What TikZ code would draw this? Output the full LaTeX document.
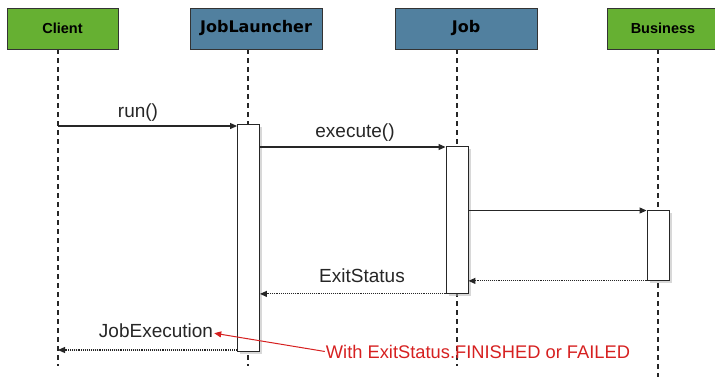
\documentclass[tikz,border=0pt]{standalone}
\usepackage{fontspec}
\setmainfont{Liberation Sans}
\newfontfamily\widefont{DejaVu Sans}
\usetikzlibrary{arrows.meta,shadows}

\definecolor{actorgreen}{RGB}{102,176,50}
\definecolor{actorblue}{RGB}{81,128,159}
\definecolor{notered}{RGB}{214,32,32}

\tikzset{
  actor/.style={draw=black!80, line width=0.8pt, minimum height=41pt, inner sep=0pt},
  lifeline/.style={draw=black!85, dash pattern=on 5pt off 4pt, line width=1.2pt},
  actbox/.style={draw=black!85, fill=white, line width=0.9pt, minimum width=22pt, inner sep=0pt, anchor=north,
    drop shadow={shadow xshift=2.5pt, shadow yshift=-2.5pt, fill=black!30, opacity=0.5}},
  call/.style={-{Triangle[length=7pt,width=6pt]}, line width=1.1pt, draw=black!85},
  reply/.style={call, densely dotted},
  msglabel/.style={font=\fontsize{19}{22}\selectfont, text=black!85, anchor=base, inner sep=1pt},
}

\begin{document}
\begin{tikzpicture}[x=1pt,y=-1pt]
  \useasboundingbox (0,0) rectangle (715,376);

  \coordinate (clienttop) at (58,49);
  \coordinate (clientbot) at (58,366);
  \coordinate (launchtop) at (248,49);
  \coordinate (launchbot) at (248,366);
  \coordinate (jobtop) at (457,49);
  \coordinate (jobbot) at (457,366);
  \coordinate (bustop) at (658,49);
  \coordinate (busbot) at (658,378);
  \draw[lifeline] (clienttop) -- (clientbot);
  \draw[lifeline] (launchtop) -- (launchbot);
  \draw[lifeline] (jobtop) -- (jobbot);
  \draw[lifeline] (bustop) -- (busbot);

  \node[actor, fill=actorgreen, minimum width=111pt] (client) at (62.5,28.5) {\fontsize{14.5}{16}\selectfont\bfseries Client};
  \node[actor, fill=actorblue, minimum width=132pt] (launcher) at (256,28.5) {\fontsize{16}{18}\selectfont\widefont\bfseries JobLauncher};
  \node[actor, fill=actorblue, minimum width=142pt] (job) at (466,28.5) {\fontsize{16}{18}\selectfont\widefont\bfseries Job};
  \node[actor, fill=actorgreen, minimum width=112pt] (business) at (663,28.5) {\fontsize{14.5}{16}\selectfont\bfseries Business};

  \node[actbox, minimum height=227pt] (launchact) at (248.5,124) {};
  \node[actbox, minimum height=147pt] (jobact) at (457,146) {};
  \node[actbox, minimum height=70pt] (busact) at (658,210) {};

  \draw[call] (clienttop |- 0,126) -- (launchact.west |- 0,126);
  \draw[call] (launchact.east |- 0,147) -- (jobact.west |- 0,147);
  \draw[call] (jobact.east |- 0,210.5) -- (busact.west |- 0,210.5);
  \draw[reply] (busact.south west) -- (jobact.east |- busact.south west);
  \draw[reply] (jobact.south west) -- (launchact.east |- jobact.south west);
  \draw[reply] (launchact.west |- 0,350) -- (clienttop |- 0,350);

  \node[msglabel] (runlbl) at (138,117) {run()};
  \node[msglabel] (execlbl) at (355,137) {execute()};
  \node[msglabel] (statuslbl) at (362,282) {ExitStatus};
  \node[msglabel] (jobexeclbl) at (156,337) {JobExecution};
  \node[msglabel, font=\fontsize{18.3}{21}\selectfont, text=notered] (note) at (478,358) {With ExitStatus.FINISHED or FAILED};
  \draw[-{Triangle[length=7pt,width=6pt]}, line width=1pt, notered] (note.west) -- ([yshift=-3pt]jobexeclbl.east);
\end{tikzpicture}
\end{document}
